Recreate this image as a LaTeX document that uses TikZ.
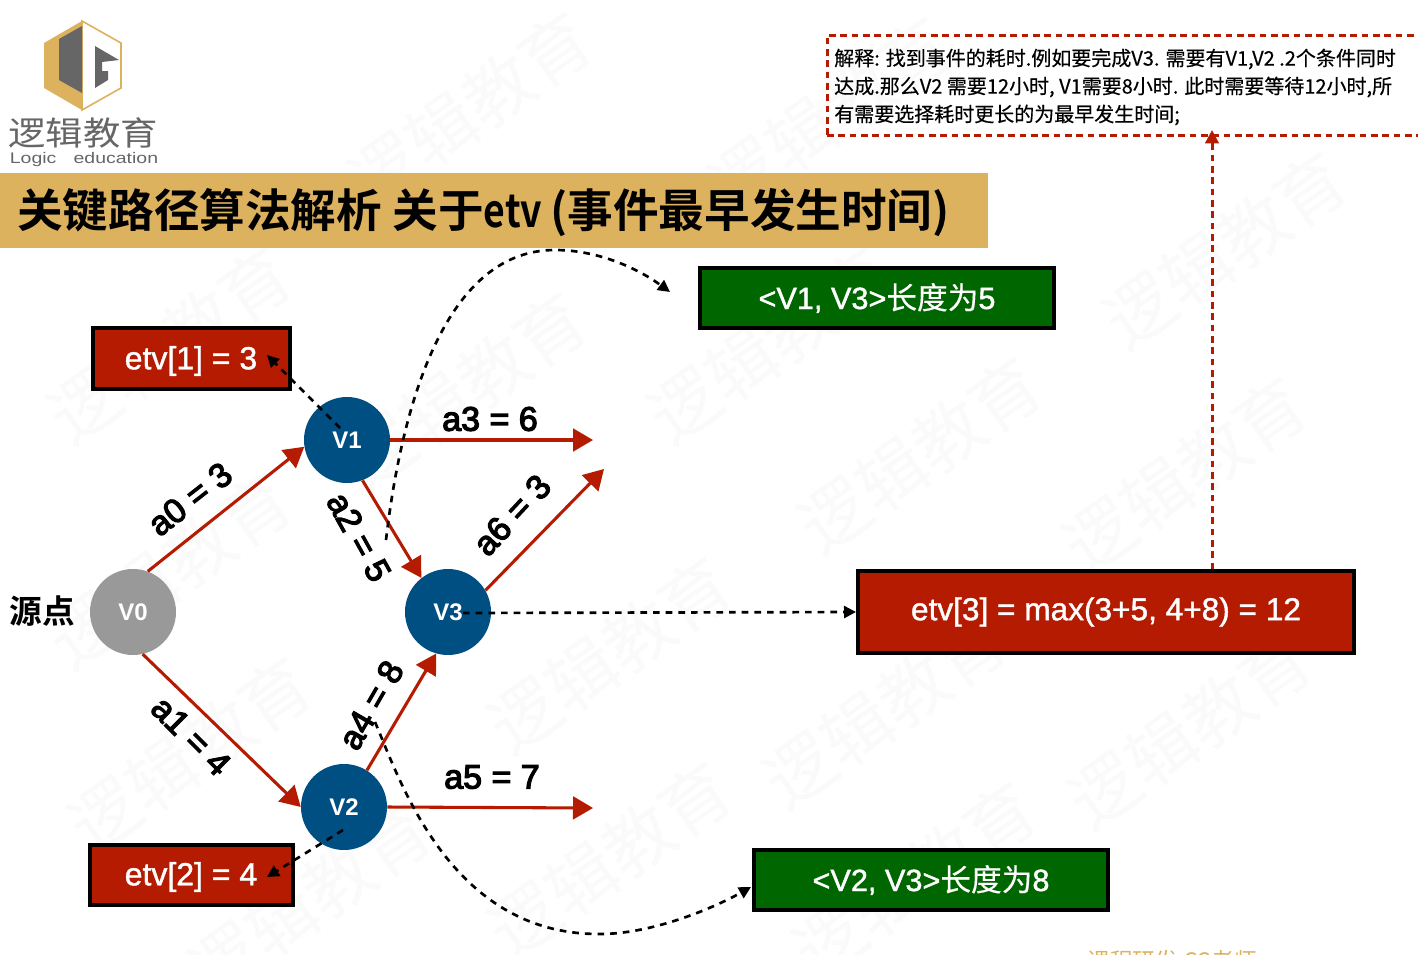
\documentclass[tikz,border=0pt]{standalone}
\usepackage{fontspec}
\usetikzlibrary{arrows.meta}
\setmainfont{Liberation Sans}
\newfontfamily\cjk{Noto Sans CJK SC}
\newfontfamily\cjkm[FakeBold=0.4]{Noto Sans CJK SC}
\newfontfamily\cjkb{Noto Sans CJK SC Bold}
\newcommand{\strongblack}[1]{\special{pdf:code 2 Tr 0.9 w 0 0 0 RG}#1\special{pdf:code 0 Tr}}
\newcommand{\strongwhite}[1]{\special{pdf:code 2 Tr 0.3 w 1 1 1 RG}#1\special{pdf:code 0 Tr}}
\definecolor{goldc}{HTML}{DDB25F}
\definecolor{redc}{HTML}{B41B00}
\definecolor{bluec}{HTML}{004F82}
\definecolor{greenc}{HTML}{006600}
\definecolor{grayc}{HTML}{999999}
\definecolor{logog}{HTML}{666666}
\definecolor{wm}{HTML}{FAFAFA}
\tikzset{
  x=0.75pt,y=-0.75pt,
  vnode/.style={circle,minimum size=64.5pt,inner sep=0pt,text=white,font=\bfseries\fontsize{18}{20}\selectfont},
  box/.style={draw=black,line width=3pt,text=white,inner sep=0pt,font=\fontsize{23.7}{28}\selectfont},
  boxtext/.style={text=white,inner sep=0pt,font=\fontsize{24}{28}\selectfont},
  redbox/.style={box,fill=redc},
  greenbox/.style={box,fill=greenc},
  redarrow/.style={draw=redc,line width=2.3pt,-{Triangle[length=15pt,width=17pt]}},
  blackdash/.style={draw=black,line width=2pt,dash pattern=on 5pt off 4.5pt,-{Triangle[length=9pt,width=9pt]}},
  reddash/.style={draw=redc,line width=2.25pt,dash pattern=on 5pt off 3.5pt},
  edgelabel/.style={text=black,inner sep=0pt,font=\fontsize{25.5}{28}\selectfont},
  watermark/.style={text=wm,inner sep=0pt,rotate=35,font=\cjk\fontsize{52}{52}\selectfont},
}
\begin{document}
\begin{tikzpicture}
\path[use as bounding box,clip] (0,0) rectangle (1418,954);
\fill[white] (0,0) rectangle (1418,954);
% watermarks
\foreach \wx/\wy in {470/110,830/115,1225/250,170/345,770/345,465/390,920/455,1185/475,170/570,610/655,885/710,1190/730,190/755,310/900,610/860,915/880}
  \node[watermark] at (\wx,\wy) {逻辑教育};
% logo
\fill[goldc] (82,21) -- (44,43) -- (44,88) -- (82,110) -- cycle;
\filldraw[fill=white,draw=goldc,line width=1.2pt] (82,21) -- (121,43) -- (121,88) -- (82,110) -- cycle;
\fill[logog] (82,26) -- (59,39) -- (59,80) -- (82,93) -- cycle;
\fill[logog] (95,46) -- (119,60) -- (102,62) -- (102,71) -- (108,71) -- (108,80) -- (95,88) -- cycle;
\node[text=logog,inner sep=0pt,font=\cjk\fontsize{28}{30}\selectfont] (logocn) at (83,133) {\scalebox{1}[0.88]{逻辑教育}};
\node[text=logog,inner sep=0pt,font=\fontsize{11.5}{14}\selectfont] (logoen) at (84,160) {\scalebox{1.27}[1]{Logic\hspace{7pt} education}};
% title
\fill[goldc] (0,173) rectangle (988,248);
\node[anchor=west,text=black,inner sep=0pt,font=\cjkb\fontsize{34.2}{36}\selectfont] (title) at (17,213) {关键路径算法解析\hspace{8pt}关于\scalebox{0.82}[1]{etv}\hspace{6pt}(事件最早发生时间)};
% explanation box
\draw[reddash] (827,135) -- (827,35) -- (1430,35);
\draw[reddash] (827,135) -- (1430,135);
\coordinate (explbottom) at (1212,130);
\node[anchor=west,align=left,text=black,inner sep=0pt,font=\cjkm\fontsize{15}{21}\selectfont] (expl) at (834,87) {解释: 找到事件的耗时.例如要完成V3. 需要有V1,V2 .2个条件同时\\达成.那么V2 需要12小时, V1需要8小时. 此时需要等待12小时,所\\有需要选择耗时更长的为最早发生时间;};
% boxes
\path[redbox] (93,328) rectangle (290,389);
\node[boxtext] (e1) at (191,361) {\strongwhite{etv[1] = 3}};
\path[redbox] (90,845) rectangle (293,905);
\node[boxtext] (e2) at (191,877) {\strongwhite{etv[2] = 4}};
\node[redbox,minimum width=372pt,minimum height=61pt] (e3) at (1106,612) {\raisebox{-2pt}{\strongwhite{etv[3] = max(3+5, 4+8) = 12}}};
\node[greenbox,minimum width=266pt,minimum height=45pt] (g1) at (877,298) {\fontsize{23}{28}\selectfont \strongwhite{<V1, V3>}{\cjkm 长度为}\strongwhite{5}};
\node[greenbox,minimum width=266pt,minimum height=45pt] (g2) at (931,880) {\fontsize{23}{28}\selectfont \strongwhite{<V2, V3>}{\cjkm 长度为}\strongwhite{8}};
% nodes
\node[vnode,fill=grayc] (v0) at (133,612) {V0};
\node[vnode,fill=bluec] (v1) at (347,440) {V1};
\node[vnode,fill=bluec] (v2) at (344,807) {V2};
\node[vnode,fill=bluec] (v3) at (448,612) {V3};
\node[text=black,inner sep=0pt,font=\cjkb\fontsize{24.5}{28}\selectfont] (src) at (42,611) {源点};
% free ends
\coordinate (a3end) at (593,440);
\coordinate (a5end) at (593,808);
\coordinate (a6end) at (604,469);
\coordinate (e1tip) at (267,355);
\coordinate (e2tip) at (267,877);
\coordinate (v1in) at (340,428);
\coordinate (v2in) at (343,830);
\coordinate (v3in) at (463,613);
\coordinate (c1s) at (386,540);
\coordinate (c1e) at (670,292);
\coordinate (c2s) at (375,722);
\coordinate (c2e) at (751,887);
% red arrows
\draw[redarrow] (v0.70) -- (v1.189);
\draw[redarrow] (v0.-77) -- (v2.180);
\draw[redarrow] (v1.-69) -- (v3.128);
\draw[redarrow] (v1.0) -- (a3end);
\draw[redarrow] (v2.58) -- (v3.-106);
\draw[redarrow] (v2.0) -- (a5end);
\draw[redarrow] (v3.30) -- (a6end);
% black dashed
\draw[blackdash] (v1in) -- (e1tip);
\draw[blackdash] (v2in) -- (e2tip);
\draw[blackdash] (v3in) -- (e3.west);
\draw[blackdash] (c1s) .. controls (400,420) and (440,250) .. (555,250) .. controls (600,250) and (640,270) .. (c1e);
\draw[blackdash] (c2s) .. controls (400,780) and (450,935) .. (600,934) .. controls (650,934) and (710,910) .. (c2e);
\draw[reddash,-{Triangle[length=10pt,width=10pt]}] (e3.north -| explbottom) -- (explbottom);
% labels
\node[edgelabel,rotate=38] (la0) at (190,499) {\strongblack{a0 = 3}};
\node[edgelabel,rotate=-45] (la1) at (191,736) {\strongblack{a1 = 4}};
\node[edgelabel,rotate=-61] (la2) at (359,537) {\strongblack{a2 = 5}};
\node[edgelabel] (la3) at (490,419) {\strongblack{a3 = 6}};
\node[edgelabel,rotate=60] (la4) at (371,705) {\strongblack{a4 = 8}};
\node[edgelabel] (la5) at (492,777) {\strongblack{a5 = 7}};
\node[edgelabel,rotate=47] (la6) at (512,515) {\strongblack{a6 = 3}};
% cut-off footer text
\node[text=goldc,inner sep=0pt,font=\cjk\fontsize{17}{18}\selectfont] (foot) at (1172,961) {课程研发 CC老师};
\end{tikzpicture}
\end{document}
